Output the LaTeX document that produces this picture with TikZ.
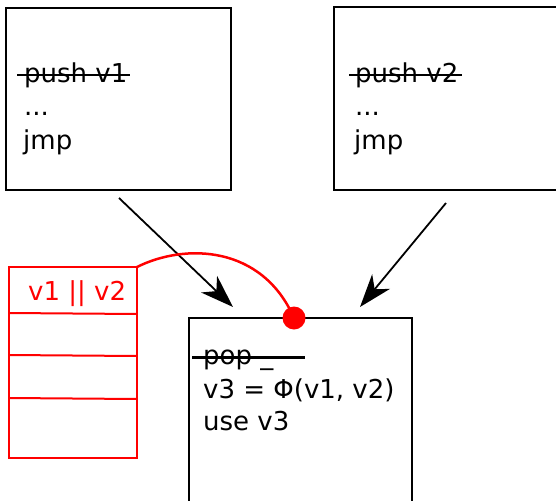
\documentclass[tikz,border=0pt]{standalone}
\usepackage{fontspec}
\setmainfont{DejaVu Sans}
\usetikzlibrary{arrows.meta}
\begin{document}
\begin{tikzpicture}[x=1pt,y=-1pt,
  blk/.style={draw=black,line width=2pt,inner sep=0pt,outer sep=0pt,anchor=north west},
  code/.style={anchor=base west,inner sep=0pt,font=\fontsize{26}{30}\selectfont},
  strike/.style={line width=2.2pt},
  stk/.style={draw=red,line width=2pt,inner sep=0pt,outer sep=0pt,anchor=north west},
  flow/.style={line width=1.8pt,-{Stealth[length=33pt,width=23pt,inset=10pt]}}]
\useasboundingbox (0,0) rectangle (556,500);
\clip (0,0) rectangle (556,500);

% basic blocks
\node[blk,minimum width=225pt,minimum height=182pt] (box1) at (6,8) {};
\node[blk,minimum width=260pt,minimum height=183pt] (box2) at (334,7) {};
\node[blk,minimum width=223pt,minimum height=220pt] (box3) at (189,318) {};

% block contents
\node[code] (p1) at (24,83) {push v1};
\node[code] (d1) at (24,116) {...};
\node[code] (j1) at (23,149) {jmp};
\draw[strike] (17,75) -- (130,75);

\node[code] (p2) at (355,83) {push v2};
\node[code] (d2) at (355,116) {...};
\node[code] (j2) at (354,149) {jmp};
\draw[strike] (349,75) -- (462,75);

\node[code] (p3) at (203,364) {pop \_};
\node[code] (v3) at (203,398) {v3 = Φ(v1, v2)};
\node[code] (u3) at (203,430) {use v3};
\draw[line width=3pt] (192,357) -- (305,357);

% control-flow edges
\coordinate (a1s) at (119,198);
\coordinate (a1e) at (233,307);
\coordinate (a2s) at (446,203);
\coordinate (a2e) at (360,307);
\draw[flow] (a1s) -- (a1e);
\draw[flow] (a2s) -- (a2e);

% value stack
\node[stk,minimum width=128pt,minimum height=191pt] (stack) at (9,267) {};
\draw[red,line width=2pt] ([yshift=-46pt]stack.north west) -- ([yshift=-47pt]stack.north east);
\draw[red,line width=2pt] ([yshift=-88pt]stack.north west) -- ([yshift=-89pt]stack.north east);
\draw[red,line width=2pt] ([yshift=-131pt]stack.north west) -- ([yshift=-132pt]stack.north east);
\node[code,text=red] (top) at (28,300) {v1 || v2};

\node[circle,fill=red,minimum size=23pt,inner sep=0pt] (dot) at (294,318) {};
\draw[red,line width=2.5pt] (stack.north east) .. controls (185,243) and (262,245) .. (dot.center);
\end{tikzpicture}
\end{document}
